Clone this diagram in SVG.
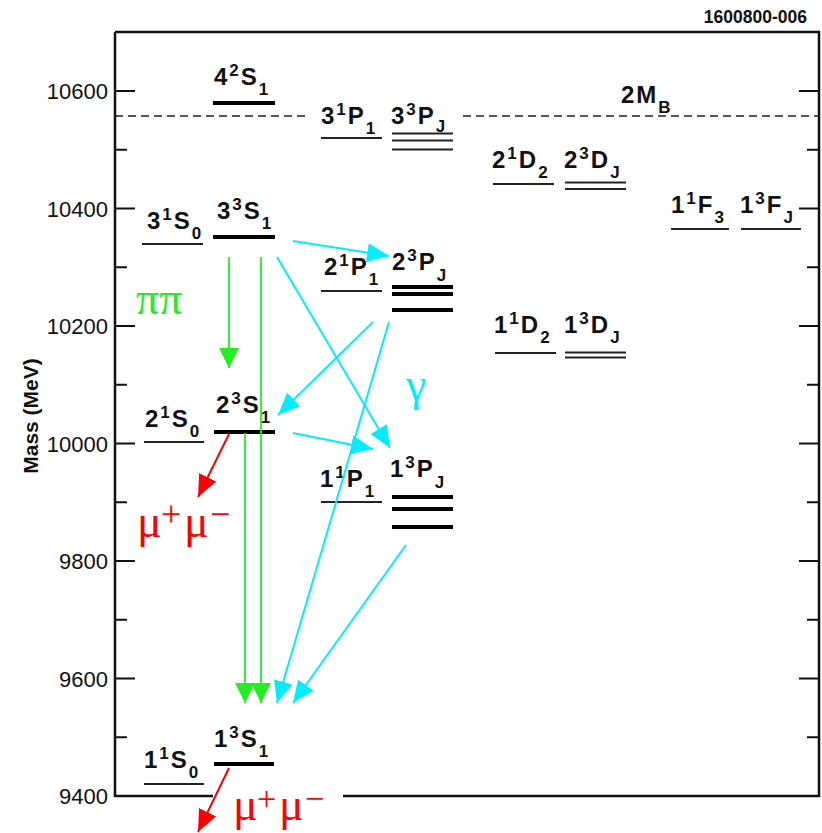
<svg xmlns="http://www.w3.org/2000/svg" width="822" height="833" viewBox="0 0 822 833">
<style>
.ax{stroke:#111;stroke-width:2.5;fill:none}
.tk{stroke:#111;stroke-width:2;fill:none}
.tl{font-family:"Liberation Sans",Arial,sans-serif;font-size:22px;fill:#111;text-anchor:end}
.lb{font-family:"Liberation Sans",Arial,sans-serif;font-size:24px;font-weight:bold;fill:#111;letter-spacing:2px}
.s{font-size:17px}
.thin{stroke:#222;stroke-width:2;fill:none}
.thick{stroke:#000;stroke-width:4;fill:none}
.gr{stroke:#22ee22;stroke-width:1.8;fill:none;marker-end:url(#ag)}
.cy{stroke:#00eeff;stroke-width:2;fill:none;marker-end:url(#ac)}
.rd{stroke:#ff0000;stroke-width:2;fill:none;marker-end:url(#ar)}
.gk{font-family:"Liberation Serif","Times New Roman",serif;font-size:46px}
</style>
<defs>
<marker id="ag" viewBox="0 0 20 20" refX="20" refY="10" markerWidth="20" markerHeight="20" markerUnits="userSpaceOnUse" orient="auto"><path d="M0,0 L20,10 L0,20 z" fill="#22ee22"/></marker>
<marker id="ac" viewBox="0 0 22 20" refX="22" refY="10" markerWidth="22" markerHeight="20" markerUnits="userSpaceOnUse" orient="auto"><path d="M0,0.5 L22,10 L0,19.5 z" fill="#00eeff"/></marker>
<marker id="ar" viewBox="0 0 22 20" refX="22" refY="10" markerWidth="22" markerHeight="20" markerUnits="userSpaceOnUse" orient="auto"><path d="M0,0.5 L22,10 L0,19.5 z" fill="#ff0000"/></marker>
</defs>
<rect width="822" height="833" fill="#fff"/>
<g id="axes">
<path class="ax" d="M115,32 H819 V796 H343 M213,796 H115 V32"/>
<path class="tk" d="M115,91 H135 M115,208.5 H135 M115,326 H135 M115,443.5 H135 M115,561 H135 M115,678.5 H135 M115,149.75 H127 M115,267.25 H127 M115,384.75 H127 M115,502.25 H127 M115,619.75 H127 M115,737.25 H127 M799,91 H819 M799,208.5 H819 M799,326 H819 M799,443.5 H819 M799,561 H819 M799,678.5 H819 M807,149.75 H819 M807,267.25 H819 M807,384.75 H819 M807,502.25 H819 M807,619.75 H819 M807,737.25 H819"/>
<text class="tl" x="108" y="99">10600</text>
<text class="tl" x="108" y="216.5">10400</text>
<text class="tl" x="108" y="334">10200</text>
<text class="tl" x="108" y="451.5">10000</text>
<text class="tl" x="108" y="569">9800</text>
<text class="tl" x="108" y="686.5">9600</text>
<text class="tl" x="108" y="804">9400</text>
<text transform="translate(38,416) rotate(-90)" text-anchor="middle" font-family="Liberation Sans,Arial,sans-serif" font-size="21" font-weight="bold" fill="#111">Mass (MeV)</text>
<text x="807" y="23" text-anchor="end" font-family="Liberation Sans,Arial,sans-serif" font-size="17.5" font-weight="bold" fill="#111">1600800-006</text>
</g>
<g id="threshold">
<path d="M115,116 H306 M463,116 H819" stroke="#222" stroke-width="1.5" stroke-dasharray="8,5" fill="none"/>
<text class="lb" x="621" y="103">2M<tspan class="s" dy="10">B</tspan></text>
</g>
<g id="s4_3S1"><path class="thick" d="M213,103 H275"/><text class="lb" x="214" y="85">4<tspan class="s" dy="-9">2</tspan><tspan dy="9">S</tspan><tspan class="s" dy="10">1</tspan></text></g>
<g id="s3_1S0"><path class="thin" d="M142,244 H203"/><text class="lb" x="147" y="229">3<tspan class="s" dy="-9">1</tspan><tspan dy="9">S</tspan><tspan class="s" dy="10">0</tspan></text></g>
<g id="s3_3S1"><path class="thick" d="M213,237 H275"/><text class="lb" x="217" y="219">3<tspan class="s" dy="-9">3</tspan><tspan dy="9">S</tspan><tspan class="s" dy="10">1</tspan></text></g>
<g id="s2_1S0"><path class="thin" d="M144,442 H204"/><text class="lb" x="145" y="427">2<tspan class="s" dy="-9">1</tspan><tspan dy="9">S</tspan><tspan class="s" dy="10">0</tspan></text></g>
<g id="s2_3S1"><path class="thick" d="M214,432 H275"/><text class="lb" x="216" y="413">2<tspan class="s" dy="-9">3</tspan><tspan dy="9">S</tspan><tspan class="s" dy="10">1</tspan></text></g>
<g id="s1_1S0"><path class="thin" d="M144,784 H204"/><text class="lb" x="144" y="768">1<tspan class="s" dy="-9">1</tspan><tspan dy="9">S</tspan><tspan class="s" dy="10">0</tspan></text></g>
<g id="s1_3S1"><path class="thick" d="M214,764 H274"/><text class="lb" x="214" y="747">1<tspan class="s" dy="-9">3</tspan><tspan dy="9">S</tspan><tspan class="s" dy="10">1</tspan></text></g>
<g id="p3_1P1"><path class="thin" d="M321,138 H382"/><text class="lb" x="321" y="124">3<tspan class="s" dy="-9">1</tspan><tspan dy="9">P</tspan><tspan class="s" dy="10">1</tspan></text></g>
<g id="p3_3PJ"><path class="thin" d="M392,133.5 H453 M392,140.5 H453 M392,149.5 H453"/><text class="lb" x="391" y="124">3<tspan class="s" dy="-9">3</tspan><tspan dy="9">P</tspan><tspan class="s" dy="8">J</tspan></text></g>
<g id="p2_1P1"><path class="thin" d="M321,291 H382"/><text class="lb" x="324" y="275">2<tspan class="s" dy="-9">1</tspan><tspan dy="9">P</tspan><tspan class="s" dy="10">1</tspan></text></g>
<g id="p2_3PJ"><path class="thick" d="M392,287 H453 M392,294 H453 M392,310 H453"/><text class="lb" x="392" y="270">2<tspan class="s" dy="-9">3</tspan><tspan dy="9">P</tspan><tspan class="s" dy="11">J</tspan></text></g>
<g id="p1_1P1"><path class="thin" d="M321,502 H382"/><text class="lb" x="320" y="487">1<tspan class="s" dy="-9">1</tspan><tspan dy="9">P</tspan><tspan class="s" dy="10">1</tspan></text></g>
<g id="p1_3PJ"><path class="thick" d="M392,497 H453 M392,509 H453 M392,527 H453"/><text class="lb" x="390" y="477">1<tspan class="s" dy="-9">3</tspan><tspan dy="9">P</tspan><tspan class="s" dy="11">J</tspan></text></g>
<g id="d2_1D2"><path class="thin" d="M493,184 H554"/><text class="lb" x="492" y="168">2<tspan class="s" dy="-9">1</tspan><tspan dy="9">D</tspan><tspan class="s" dy="10">2</tspan></text></g>
<g id="d2_3DJ"><path class="thin" d="M565,182.5 H626 M565,189 H626"/><text class="lb" x="564" y="168">2<tspan class="s" dy="-9">3</tspan><tspan dy="9">D</tspan><tspan class="s" dy="10">J</tspan></text></g>
<g id="d1_1D2"><path class="thin" d="M495,353 H556"/><text class="lb" x="494" y="333">1<tspan class="s" dy="-9">1</tspan><tspan dy="9">D</tspan><tspan class="s" dy="10">2</tspan></text></g>
<g id="d1_3DJ"><path class="thin" d="M565,352.5 H626 M565,357.5 H626"/><text class="lb" x="564" y="333">1<tspan class="s" dy="-9">3</tspan><tspan dy="9">D</tspan><tspan class="s" dy="10">J</tspan></text></g>
<g id="f1_1F3"><path class="thin" d="M671,229 H729"/><text class="lb" x="671" y="213">1<tspan class="s" dy="-9">1</tspan><tspan dy="9">F</tspan><tspan class="s" dy="10">3</tspan></text></g>
<g id="f1_3FJ"><path class="thin" d="M741,229 H801"/><text class="lb" x="740" y="213">1<tspan class="s" dy="-9">3</tspan><tspan dy="9">F</tspan><tspan class="s" dy="10">J</tspan></text></g>
<g id="connectors">
<path class="gr" d="M229,257 L229,368"/>
<path class="gr" d="M261,257 L261,703"/>
<path class="gr" d="M245,433 L245,703"/>
<path class="rd" d="M229,434 L198,497"/>
<path class="rd" d="M229,768 L198,832"/>
<path class="cy" d="M293,241 L389,256"/>
<path class="cy" d="M277,257 L390,448"/>
<path class="cy" d="M373,322 L278,415"/>
<path class="cy" d="M389,322 L277,703"/>
<path class="cy" d="M293,433 L373,449"/>
<path class="cy" d="M406,545 L293,703"/>
</g>
<g id="decay-labels">
<text class="gk" x="136" y="314" font-size="50" fill="#22ee22">ππ</text>
<text class="gk" x="406" y="400" font-size="50" fill="#00eeff">γ</text>
<text class="gk" fill="#ff0000"><tspan x="137" y="537">μ</tspan><tspan x="161" y="526" font-size="36">+</tspan><tspan x="184" y="537">μ</tspan><tspan x="210" y="526" font-size="36">−</tspan></text>
<text class="gk" font-size="44" fill="#ff0000"><tspan x="233" y="820">μ</tspan><tspan x="257" y="810" font-size="34">+</tspan><tspan x="279" y="820">μ</tspan><tspan x="305" y="810" font-size="34">−</tspan></text>
</g>
</svg>
